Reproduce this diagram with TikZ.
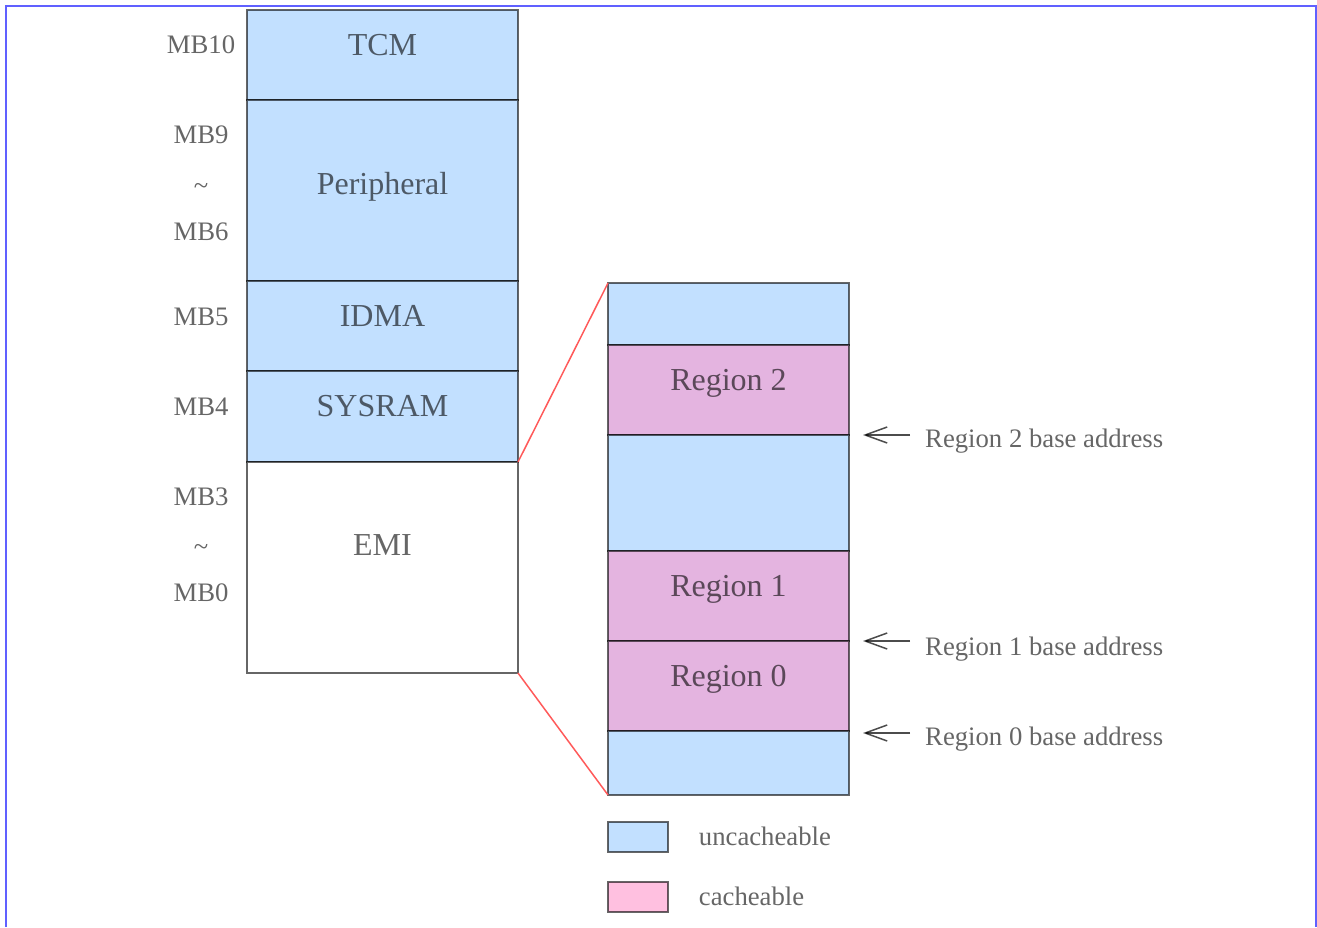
\documentclass[tikz,border=0pt]{standalone}
\usepackage{fontspec}
\setmainfont{Liberation Serif}
\usepackage{tikz}
\usepackage{xcolor}
\usetikzlibrary{arrows.meta,positioning}

\definecolor{uncache}{HTML}{C2E0FF}
\definecolor{cache}{HTML}{E4B4E0}
\definecolor{legpink}{HTML}{FFC0E0}
\definecolor{frameblue}{HTML}{6060FF}
\definecolor{linkred}{HTML}{FF5A5A}

\begin{document}
\begin{tikzpicture}[x=1pt,y=-1pt,
    cell/.style={draw=black,draw opacity=0.6,line width=1.5pt,inner sep=0pt,outer sep=0pt,
      text=black,text opacity=0.6,text height=0pt,text depth=0pt,
      font=\fontsize{32}{38}\selectfont},
    leftcell/.style={cell,minimum width=271pt},
    rightcell/.style={cell,minimum width=241pt},
    note/.style={inner sep=0pt,text=black,text opacity=0.6,font=\fontsize{26.7}{32}\selectfont},
    ptr/.style={draw=black,draw opacity=0.7,line width=1.5pt,-{Straight Barb[length=22pt,width=16pt]}},
    link/.style={draw=linkred,line width=1.5pt},
    legbox/.style={draw=black,draw opacity=0.6,line width=1.5pt,minimum width=60pt,minimum height=30pt,inner sep=0pt}]
    \useasboundingbox (0,0) rectangle (1317,927);

    % Frame
    \draw[frameblue,line width=2.5pt] (6,927) -- (6,6) -- (1316,6) -- (1316,927);

    % Memory map
    \node[leftcell,fill=uncache,minimum height=90pt] (tcm) at (382.5,55) {TCM};
    \node[leftcell,fill=uncache,minimum height=181pt,text height=8pt,below=0pt of tcm] (peri) {Peripheral};
    \node[leftcell,fill=uncache,minimum height=90pt,below=0pt of peri] (idma) {IDMA};
    \node[leftcell,fill=uncache,minimum height=91pt,below=0pt of idma] (sysram) {SYSRAM};
    \node[leftcell,fill=white,minimum height=211pt,text depth=25pt,below=0pt of sysram] (emi) {EMI};

    % Memory block labels
    \node[note,anchor=base] (mb10) at (201,53) {MB10};
    \node[note,anchor=base] (mb9) at (201,143) {MB9};
    \node[note,anchor=base] (til1) at (201,194) {\textasciitilde};
    \node[note,anchor=base] (mb6) at (201,240) {MB6};
    \node[note,anchor=base] (mb5) at (201,325) {MB5};
    \node[note,anchor=base] (mb4) at (201,415) {MB4};
    \node[note,anchor=base] (mb3) at (201,505) {MB3};
    \node[note,anchor=base] (til2) at (201,555) {\textasciitilde};
    \node[note,anchor=base] (mb0) at (201,601) {MB0};

    % EMI detail
    \node[rightcell,fill=uncache,minimum height=62pt] (top) at (728.5,314) {};
    \node[rightcell,fill=cache,minimum height=90pt,below=0pt of top] (reg2) {Region 2};
    \node[rightcell,fill=uncache,minimum height=116pt,below=0pt of reg2] (mid) {};
    \node[rightcell,fill=cache,minimum height=90pt,below=0pt of mid] (reg1) {Region 1};
    \node[rightcell,fill=cache,minimum height=90pt,below=0pt of reg1] (reg0) {Region 0};
    \node[rightcell,fill=uncache,minimum height=64pt,below=0pt of reg0] (bot) {};

    % Zoom lines
    \draw[link] (sysram.south east) -- (top.north west);
    \draw[link] (emi.south east) -- (bot.south west);

    % Base addresses
    \coordinate (tip2) at ([xshift=14pt]reg2.south east);
    \coordinate (tail2) at ([xshift=61pt]reg2.south east);
    \draw[ptr] (tail2) -- (tip2);
    \node[note,anchor=base west] (base2) at ([xshift=15pt,yshift=-12pt]tail2) {Region 2 base address};

    \coordinate (tip1) at ([xshift=14pt]reg1.south east);
    \coordinate (tail1) at ([xshift=61pt]reg1.south east);
    \draw[ptr] (tail1) -- (tip1);
    \node[note,anchor=base west] (base1) at ([xshift=15pt,yshift=-14pt]tail1) {Region 1 base address};

    \coordinate (tip0) at ([xshift=14pt,yshift=-2pt]reg0.south east);
    \coordinate (tail0) at ([xshift=61pt,yshift=-2pt]reg0.south east);
    \draw[ptr] (tail0) -- (tip0);
    \node[note,anchor=base west] (base0) at ([xshift=15pt,yshift=-12pt]tail0) {Region 0 base address};

    % Legend
    \node[legbox,fill=uncache] (key1) at (638,837) {};
    \node[note,anchor=base west] (txt1) at ([xshift=30pt,yshift=-8pt]key1.east) {uncacheable};
    \node[legbox,fill=legpink] (key2) at (638,897) {};
    \node[note,anchor=base west] (txt2) at ([xshift=30pt,yshift=-8pt]key2.east) {cacheable};
\end{tikzpicture}
\end{document}
